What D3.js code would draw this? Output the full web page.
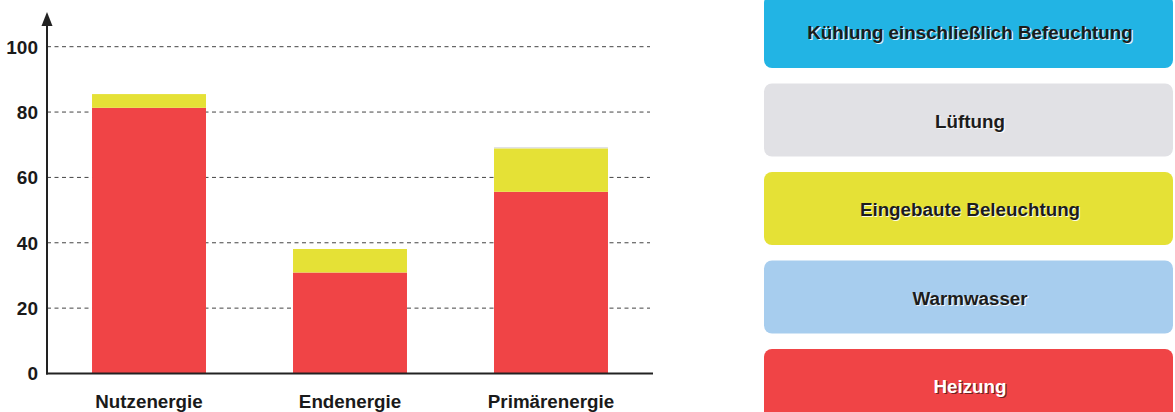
<!DOCTYPE html>
<html>
<head>
<meta charset="utf-8">
<script src="https://cdn.jsdelivr.net/npm/d3@7"></script>
<style>
  body { margin: 0; background: #fff; }
  text { font-family: "Liberation Sans", Arial, sans-serif; font-weight: bold; }
</style>
</head>
<body>
<div id="chart"></div>
<script>
// data
const categories = ["Nutzenergie", "Endenergie", "Primärenergie"];
const seriesNames = ["Heizung", "Warmwasser", "Eingebaute Beleuchtung", "Lüftung", "Kühlung einschließlich Befeuchtung"];
const heizung = [81.3, 30.9, 55.6];
const warmwasser = [0, 0, 0];
const beleuchtung = [4.2, 7.2, 13.3];
const lueftung = [0, 0, 0.4];
const kuehlung = [0, 0, 0];
const yTicks = [0, 20, 40, 60, 80, 100];
const seriesColors = ["#f04446", "#a7cdee", "#e5e136", "#e1e1e5", "#22b4e4"];

const W = 1175, H = 412;
const svg = d3.select("#chart").append("svg")
    .attr("width", W)
    .attr("height", H);

const rows = categories.map((c, i) => ({
    cat: c,
    "Heizung": heizung[i],
    "Warmwasser": warmwasser[i],
    "Eingebaute Beleuchtung": beleuchtung[i],
    "Lüftung": lueftung[i],
    "Kühlung einschließlich Befeuchtung": kuehlung[i]
}));

const x = d3.scaleBand()
    .domain(categories)
    .range([47, 653])
    .paddingInner(0.433)
    .paddingOuter(0.224);

const y = d3.scaleLinear()
    .domain([0, 100])
    .range([373.5, 46.7]);

const color = d3.scaleOrdinal().domain(seriesNames).range(seriesColors);

// dashed gridlines
svg.append("g")
    .selectAll("line")
    .data(yTicks.filter(d => d > 0))
    .enter().append("line")
    .attr("x1", 47).attr("x2", 650)
    .attr("y1", d => y(d)).attr("y2", d => y(d))
    .attr("stroke", "#444")
    .attr("stroke-width", 1)
    .attr("stroke-dasharray", "4,3.5");

// stacked bars
const stacked = d3.stack().keys(seriesNames)(rows);
svg.append("g")
    .selectAll("g")
    .data(stacked)
    .enter().append("g")
    .attr("fill", d => color(d.key))
    .selectAll("rect")
    .data(d => d)
    .enter().append("rect")
    .attr("x", d => x(d.data.cat))
    .attr("y", d => y(d[1]))
    .attr("width", x.bandwidth())
    .attr("height", d => y(d[0]) - y(d[1]));

// y axis with arrow
svg.append("line")
    .attr("x1", 47).attr("x2", 47)
    .attr("y1", y(0) + 1).attr("y2", 22)
    .attr("stroke", "#222").attr("stroke-width", 2);
svg.append("path")
    .attr("d", "M41.5,26 L52.5,26 L47,12 Z")
    .attr("fill", "#222");

// x baseline
svg.append("line")
    .attr("x1", 46).attr("x2", 653)
    .attr("y1", y(0)).attr("y2", y(0))
    .attr("stroke", "#222").attr("stroke-width", 2);

// y tick labels
svg.append("g")
    .selectAll("text")
    .data(yTicks)
    .enter().append("text")
    .attr("x", 38)
    .attr("y", d => y(d))
    .attr("dy", "0.36em")
    .attr("text-anchor", "end")
    .attr("font-size", 19)
    .attr("fill", "#1a1a1a")
    .text(d => d);

// category labels
svg.append("g")
    .selectAll("text")
    .data(categories)
    .enter().append("text")
    .attr("x", d => x(d) + x.bandwidth() / 2)
    .attr("y", 408)
    .attr("text-anchor", "middle")
    .attr("font-size", 18.8)
    .attr("fill", "#1a1a1a")
    .text(d => d);

// legend boxes, top to bottom
const legendOrder = seriesNames.slice().reverse();
const boxTop = d3.scaleLinear().domain([0, 4]).range([-5, 349]);
const legend = svg.append("g")
    .selectAll("g")
    .data(legendOrder)
    .enter().append("g")
    .attr("transform", (d, i) => `translate(764,${boxTop(i)})`);

legend.append("rect")
    .attr("width", 409)
    .attr("height", 73)
    .attr("rx", 8)
    .attr("fill", d => color(d));

const isDark = d => d === "Heizung";
legend.append("text")
    .attr("x", 206 + 1.2)
    .attr("y", 37.5 + 1.2)
    .attr("dy", "0.35em")
    .attr("text-anchor", "middle")
    .attr("font-size", 18.8)
    .attr("fill", d => isDark(d) ? "#5a1a1a" : "#ffffff")
    .attr("opacity", 0.85)
    .text(d => d);

legend.append("text")
    .attr("x", 206)
    .attr("y", 37.5)
    .attr("dy", "0.35em")
    .attr("text-anchor", "middle")
    .attr("font-size", 18.8)
    .attr("fill", d => isDark(d) ? "#ffffff" : "#1c1c1c")
    .text(d => d);
</script>
</body>
</html>
